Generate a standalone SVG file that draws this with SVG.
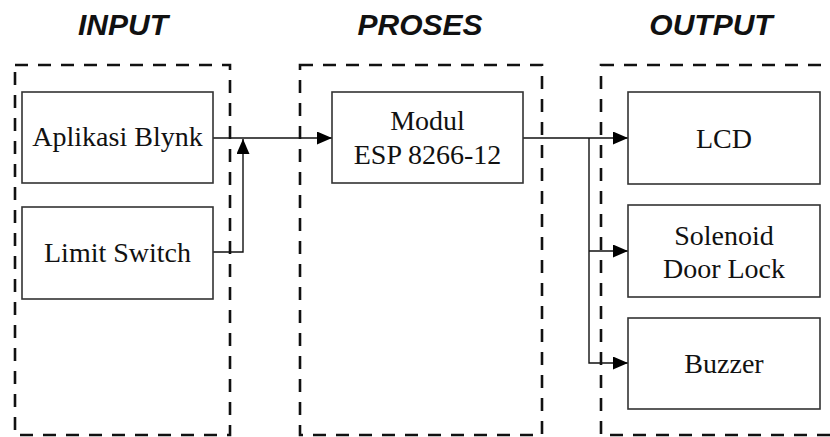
<svg xmlns="http://www.w3.org/2000/svg" width="830" height="437" viewBox="0 0 830 437">
<style>
.title{font-family:"Liberation Sans",Arial,sans-serif;font-weight:bold;font-style:italic;font-size:30px;fill:#111;text-anchor:middle}
.lbl{font-family:"Liberation Serif","Times New Roman",serif;font-size:28px;fill:#111;text-anchor:middle}
.grp{fill:none;stroke:#111;stroke-width:2.6;stroke-dasharray:13 10}
.box{fill:#fff;stroke:#333;stroke-width:1.6}
.wire{fill:none;stroke:#111;stroke-width:1.4}
</style>
<defs>
<marker id="arr" markerWidth="15" markerHeight="13" refX="15" refY="6.5" orient="auto" markerUnits="userSpaceOnUse">
<path d="M0,0 L15,6.5 L0,13 Z" fill="#000"/>
</marker>
</defs>
<rect width="830" height="437" fill="#fff"/>
<g id="titles">
<text class="title" x="123" y="35">INPUT</text>
<text class="title" x="420" y="35">PROSES</text>
<text class="title" x="711" y="35">OUTPUT</text>
</g>
<g id="groups">
<rect class="grp" x="15" y="65" width="215" height="370"/>
<rect class="grp" x="300" y="65" width="242" height="370"/>
<rect class="grp" x="601" y="65" width="240" height="370"/>
</g>
<g id="connectors">
<line class="wire" x1="213" y1="138" x2="332" y2="138" marker-end="url(#arr)"/>
<polyline class="wire" points="213,252 243,252 243,139" marker-end="url(#arr)"/>
<line class="wire" x1="523" y1="138" x2="628" y2="138" marker-end="url(#arr)"/>
<polyline class="wire" points="589,138 589,363 628,363" marker-end="url(#arr)"/>
<line class="wire" x1="589" y1="251" x2="628" y2="251" marker-end="url(#arr)"/>
</g>
<g id="blynk">
<rect class="box" x="22" y="92" width="191" height="91"/>
<text class="lbl" x="117.5" y="146">Aplikasi Blynk</text>
</g>
<g id="limit">
<rect class="box" x="22" y="207" width="191" height="92"/>
<text class="lbl" x="117.5" y="262">Limit Switch</text>
</g>
<g id="esp">
<rect class="box" x="332" y="92" width="191" height="91"/>
<text class="lbl" x="427.5" y="130">Modul</text>
<text class="lbl" x="427.5" y="164">ESP 8266-12</text>
</g>
<g id="lcd">
<rect class="box" x="628" y="92" width="192" height="92"/>
<text class="lbl" x="724" y="148">LCD</text>
</g>
<g id="solenoid">
<rect class="box" x="628" y="205" width="192" height="92"/>
<text class="lbl" x="724" y="245">Solenoid</text>
<text class="lbl" x="724" y="278">Door Lock</text>
</g>
<g id="buzzer">
<rect class="box" x="628" y="318" width="192" height="91"/>
<text class="lbl" x="724" y="373">Buzzer</text>
</g>
</svg>
